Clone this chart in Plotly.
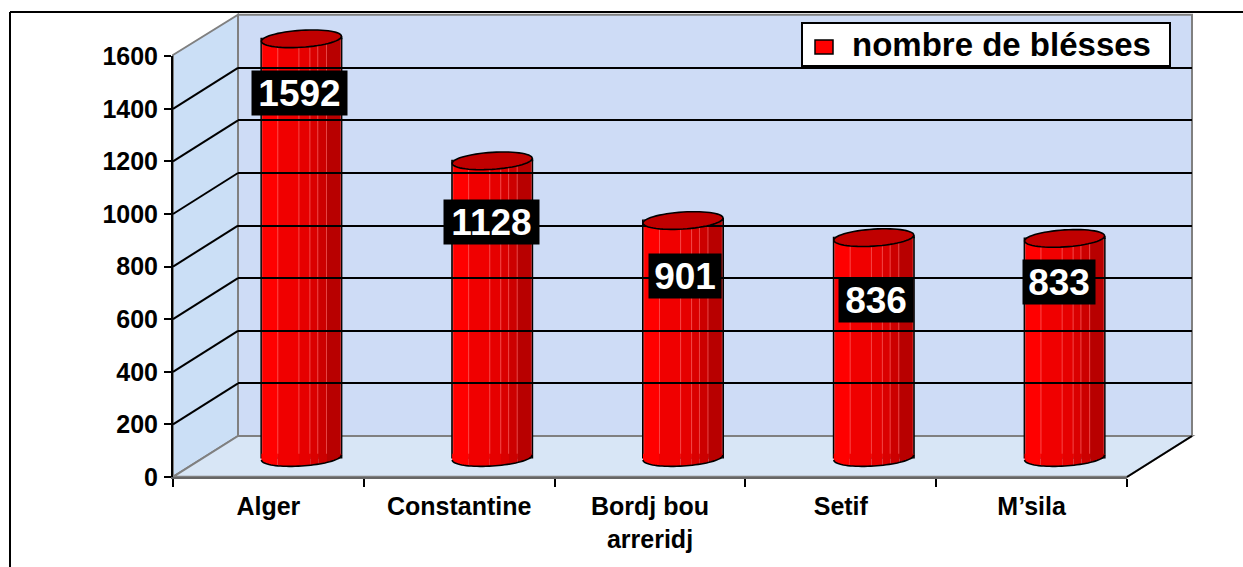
import math
import plotly.graph_objects as go

categories = ["Alger", "Constantine", "Bordj bou<br>arreridj", "Setif", "M’sila"]
blesses = [1592, 1128, 901, 836, 833]
y_ticks = [0, 200, 400, 600, 800, 1000, 1200, 1400, 1600]
series_name = "nombre de blésses"

W, H = 1243, 567
FONT = "Liberation Sans"
K = 420.8 / 1600  # px per unit

# label placement (px) and shading of the cylinders
label_center_px = [93, 222, 276, 300, 282]
label_xshift = [-2, -1, 2, 2, -6]
label_box_px = [95, 95, 72, 74, 72]
strip_edges = [0, .2, .47, .61, .71, .82, 1]
strip_colors = ["#ff0000", "#f00000", "#e60000", "#da0000", "#cc0000", "#b80000"]


def fx(px):
    return px / W


def fy(py):
    return 1 - py / H


xs = list(range(len(categories)))
BW = 80 / 190.8
RX = BW / 2
RY = 8.5 / K
TILT = 2.5 / K
Y2_MIN, Y2_MAX = -100, 1700
Y2_BASE = 457.5

fig = go.Figure()
fig.add_trace(go.Bar(x=xs, y=blesses, name=series_name, width=BW, xaxis="x2", yaxis="y2",
                     marker=dict(color="#ff0000", line=dict(color="black", width=2)),
                     hoverinfo="skip", showlegend=False))
INSET = 0.8 / 190.8
for j, col in enumerate(strip_colors):
    a = strip_edges[j] * (BW - 2 * INSET) + INSET
    b = strip_edges[j + 1] * (BW - 2 * INSET) + INSET
    fig.add_trace(go.Bar(x=xs, y=blesses, width=b - a, offset=a - BW / 2, xaxis="x2", yaxis="y2",
                         marker=dict(color=col, line=dict(width=0.6, color="rgba(255,130,130,0.7)")),
                         showlegend=False, hoverinfo="skip"))
# invisible traces binding the front axes and the back wall axes
fig.add_trace(go.Scatter(x=xs, y=blesses, mode="markers", marker=dict(opacity=0), showlegend=False, hoverinfo="skip"))
fig.add_trace(go.Scatter(x=xs, y=blesses, mode="markers", marker=dict(opacity=0), xaxis="x3", yaxis="y3",
                         showlegend=False, hoverinfo="skip"))

shapes = []


def poly(pts, **kw):
    p = "M " + " L ".join(f"{x:.5f} {y:.3f}" for x, y in pts) + " Z"
    return dict(type="path", path=p, **kw)


# walls and floor
shapes.append(poly([(fx(238), fy(15)), (fx(1192), fy(15)), (fx(1192), fy(436)), (fx(238), fy(436))],
                   xref="paper", yref="paper", fillcolor="#cedcf6", line=dict(color="#808080", width=2), layer="below"))
shapes.append(poly([(fx(173), fy(55)), (fx(238), fy(15)), (fx(238), fy(436)), (fx(173), fy(477))],
                   xref="paper", yref="paper", fillcolor="#cbdff6", line=dict(color="#808080", width=2), layer="below"))
shapes.append(poly([(fx(173), fy(477)), (fx(238), fy(436)), (fx(1192), fy(436)), (fx(1127), fy(477))],
                   xref="paper", yref="paper", fillcolor="#d8e6f6", line=dict(color="#808080", width=2), layer="below"))


def pline(x0, y0, x1, y1, color="black", width=2):
    return dict(type="line", xref="paper", yref="paper", x0=fx(x0), y0=fy(y0), x1=fx(x1), y1=fy(y1),
                line=dict(color=color, width=width), layer="below")


for t in y_ticks[1:-1]:
    shapes.append(pline(173, 477 - t * K, 238, 436 - t * K))
shapes.append(pline(1127, 477, 1192, 436))
# outer frame
shapes.append(pline(10, 12, W, 12))
shapes.append(pline(10, 12, 10, H))

# cylinder caps, from the data
for i, v in zip(xs, blesses):
    cx = i
    # bottom of each strip
    for j, col in enumerate(strip_colors):
        a = -BW / 2 + strip_edges[j] * BW
        b = -BW / 2 + strip_edges[j + 1] * BW
        pts = []
        for n in range(9):
            off = a + (b - a) * n / 8
            u = max(-1, min(1, off / RX))
            pts.append((cx + off, -RY * math.sqrt(1 - u * u) + TILT * u))
        shapes.append(poly([(cx + a, 14)] + pts + [(cx + b, 14)], xref="x2", yref="y2", fillcolor=col,
                           line=dict(width=0), layer="above"))
    low = []
    for n in range(41):
        th = math.pi * n / 40
        low.append((cx + RX * math.cos(th), -RY * math.sin(th) + TILT * math.cos(th)))
    shapes.append(dict(type="path", xref="x2", yref="y2", layer="above",
                       path="M " + " L ".join(f"{x:.5f} {y:.3f}" for x, y in low),
                       line=dict(color="black", width=1.6)))
    # small corner next to the right-hand tip of the cap
    a = -BW / 2 + strip_edges[-2] * BW
    shapes.append(poly([(cx + a, v - 2), (cx + RX, v - 2), (cx + RX, v + TILT), (cx + a, v + TILT)],
                       xref="x2", yref="y2", fillcolor=strip_colors[-1], line=dict(width=0), layer="above"))
    shapes.append(dict(type="line", xref="x2", yref="y2", x0=cx + RX, x1=cx + RX, y0=v - 2, y1=v + TILT,
                       line=dict(color="black", width=2), layer="above"))
    top = []
    for n in range(60):
        th = 2 * math.pi * n / 60
        top.append((cx + RX * math.cos(th), v + RY * math.sin(th) + TILT * math.cos(th)))
    shapes.append(poly(top, xref="x2", yref="y2", fillcolor="#c00000",
                       line=dict(color="black", width=1.6), layer="above"))

# legend box, swatch and text
shapes.append(dict(type="rect", xref="paper", yref="paper", x0=fx(802), x1=fx(1170), y0=fy(66), y1=fy(23),
                   fillcolor="white", line=dict(color="black", width=2), layer="above"))
shapes.append(dict(type="rect", xref="paper", yref="paper", x0=fx(815), x1=fx(833), y0=fy(54), y1=fy(40),
                   fillcolor="#ff0000", line=dict(color="black", width=1.5), layer="above"))

annotations = [dict(x=fx(1001), y=fy(45), xref="paper", yref="paper", text=series_name, showarrow=False,
                    xanchor="center", yanchor="middle",
                    font=dict(family=FONT, size=33, color="black", weight="bold"))]
for i, v, py, dx, bw in zip(xs, blesses, label_center_px, label_xshift, label_box_px):
    annotations.append(dict(x=i, y=(Y2_BASE - py) / K, xref="x2", yref="y2", text=str(v), showarrow=False,
                            xshift=dx, bgcolor="black", borderpad=0, width=bw, height=44,
                            font=dict(family=FONT, size=37, color="white", weight="bold")))

y_font = dict(family=FONT, size=25, color="black", weight="bold")
x_font = dict(family=FONT, size=25, color="black", weight="bold")
fig.update_layout(
    width=W, height=H, margin=dict(l=0, r=0, t=0, b=0, autoexpand=False),
    paper_bgcolor="white", plot_bgcolor="rgba(0,0,0,0)",
    barmode="overlay", shapes=shapes, annotations=annotations, showlegend=False,
    font=dict(family=FONT),
    xaxis=dict(domain=[fx(173), fx(1127)], range=[-0.5, 4.5], tickmode="array", tickvals=xs, ticktext=categories,
               ticks="", tickfont=x_font, showgrid=False, zeroline=False, showline=True, linecolor="#666666",
               linewidth=2, anchor="y", ticklabelstandoff=6,
               minor=dict(tickmode="array", tickvals=[-0.5, 0.5, 1.5, 2.5, 3.5, 4.5], ticks="outside", ticklen=8,
                          tickwidth=2, tickcolor="black", showgrid=False)),
    yaxis=dict(domain=[fy(477), fy(477) + 1600 * K / H], range=[0, 1600], tickmode="array", tickvals=y_ticks,
               ticks="outside", ticklen=7, tickwidth=2, tickcolor="black", tickfont=y_font, showgrid=False,
               zeroline=False, showline=True, linecolor="black", linewidth=2, anchor="x", ticklabelstandoff=1),
    xaxis2=dict(domain=[fx(206), fx(1160)], range=[-0.5, 4.5], visible=False, anchor="y2"),
    yaxis2=dict(domain=[fy(Y2_BASE - Y2_MIN * K), fy(Y2_BASE - Y2_MAX * K)], range=[Y2_MIN, Y2_MAX], visible=False,
                anchor="x2"),
    xaxis3=dict(domain=[fx(238), fx(1192)], range=[-0.5, 4.5], visible=False, anchor="y3"),
    yaxis3=dict(domain=[fy(436), fy(436) + 1600 * K / H], range=[0, 1600], tickmode="array", tickvals=y_ticks[1:-1],
                showticklabels=False, ticks="", showgrid=True, gridcolor="black", gridwidth=2, zeroline=False,
                showline=False, anchor="x3"),
)
fig.write_html("out.html", config={"displayModeBar": False},
               post_script="document.body.style.margin='0';")
